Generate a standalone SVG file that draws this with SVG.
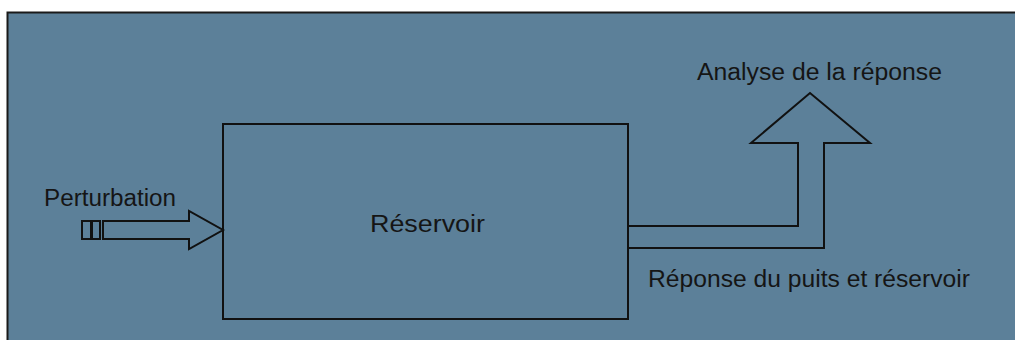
<svg xmlns="http://www.w3.org/2000/svg" width="1015" height="340" viewBox="0 0 1015 340">
  <style>
    .ln { fill: none; stroke: #111; stroke-width: 2; stroke-linejoin: miter; }
    .lbl { font-family: "Liberation Sans", Arial, sans-serif; font-size: 23px; fill: #151515; }
  </style>
  <rect x="0" y="0" width="1015" height="340" fill="#ffffff"/>
  <rect id="panel" x="7.5" y="12.5" width="1015" height="340" fill="#5c8099" stroke="#1a1a1a" stroke-width="2"/>

  <g id="reservoir">
    <rect class="ln" x="223" y="124" width="405" height="195"/>
    <text class="lbl" x="370" y="232" textLength="115" lengthAdjust="spacingAndGlyphs">Réservoir</text>
  </g>

  <g id="perturbation">
    <text class="lbl" x="44" y="206" textLength="132" lengthAdjust="spacingAndGlyphs">Perturbation</text>
  </g>

  <g id="analyse">
    <text class="lbl" x="697" y="80" textLength="245" lengthAdjust="spacingAndGlyphs">Analyse de la réponse</text>
  </g>

  <g id="reponse">
    <text class="lbl" x="648" y="287" textLength="322" lengthAdjust="spacingAndGlyphs">Réponse du puits et réservoir</text>
  </g>

  <g id="connectors">
    <!-- input pulse and block arrow -->
    <rect class="ln" x="82" y="221" width="9" height="18" stroke-width="1.8"/>
    <rect class="ln" x="92" y="221" width="8" height="18" stroke-width="1.8"/>
    <path class="ln" d="M103,221 H189 V211 L223,230 L189,249 V239 H103 Z"/>
    <!-- output response arrow -->
    <path class="ln" d="M628,226 H798 V143 H751 L810,93 L870,143 H824 V248 H628"/>
  </g>
</svg>
